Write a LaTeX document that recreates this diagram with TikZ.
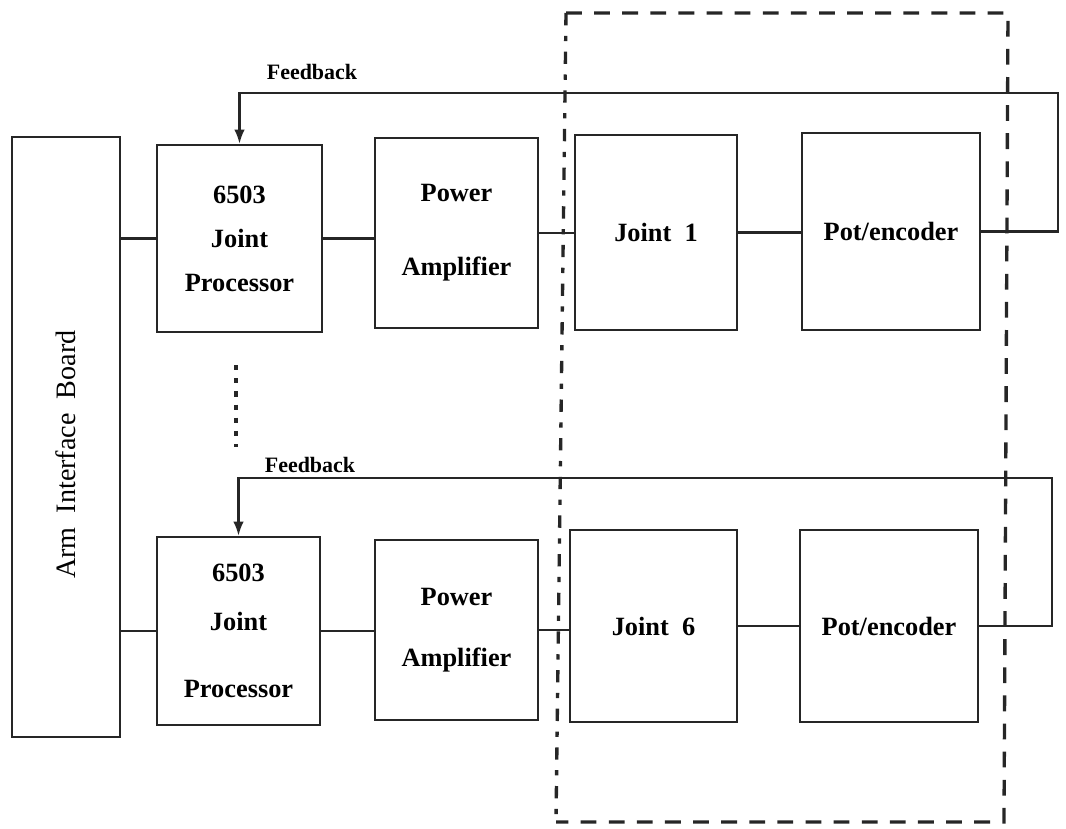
\documentclass[tikz,border=0pt]{standalone}
\usepackage{fontspec}
\setmainfont{Liberation Serif}
\usepackage{tikz}
\usetikzlibrary{positioning, calc, arrows.meta}

\begin{document}
\begin{tikzpicture}[x=0.02cm, y=-0.02cm,
				BlockNode/.style={rectangle, draw=black!85, line width=1.5pt, align=center, inner sep=0pt, font=\fontsize{15}{18}\selectfont\bfseries},
				LinkLine/.style={line width=1.2pt, draw=black!85},
				FrameLine/.style={line width=1.9pt, draw=black!85, dash pattern=on 9pt off 7pt},
				TagText/.style={font=\fontsize{12.5}{15}\selectfont\bfseries}]

			\useasboundingbox (0,0) rectangle (1066,829);

			% Nodes
			\node[BlockNode, minimum width=2.16cm, minimum height=12cm] (Board) at (66,437) {};
			\node[rotate=90, font=\fontsize{16}{19}\selectfont] (BoardText) at ([yshift=-10pt]Board.center) {Arm\ \ Interface\ \ Board};

			\node[BlockNode, minimum width=3.3cm, minimum height=3.74cm] (Proc1) at (239.5,238.5) {6503\\[7pt] Joint\\[7pt] Processor};
			\node[BlockNode, minimum width=3.26cm, minimum height=3.8cm] (Amp1) at (456.5,233) {Power\\[24pt] Amplifier};
			\node[BlockNode, minimum width=3.24cm, minimum height=3.9cm] (Joint1) at (656,232.5) {Joint\ \ 1};
			\node[BlockNode, minimum width=3.56cm, minimum height=3.94cm] (Pot1) at (891,231.5) {Pot/encoder};

			\node[BlockNode, minimum width=3.26cm, minimum height=3.76cm] (Proc6) at (238.5,631) {6503\\[10pt] Joint\\[20pt] Processor};
			\node[BlockNode, minimum width=3.26cm, minimum height=3.6cm] (Amp6) at (456.5,630) {Power\\[17pt] Amplifier};
			\node[BlockNode, minimum width=3.34cm, minimum height=3.84cm] (Joint6) at (653.5,626) {Joint\ \ 6};
			\node[BlockNode, minimum width=3.56cm, minimum height=3.84cm] (Pot6) at (889,626) {Pot/encoder};

			\node[TagText] (Fb1) at (312,72) {Feedback};
			\node[TagText] (Fb6) at (310,465) {Feedback};

			\coordinate (Ret1) at (1058,93);
			\coordinate (Ret6) at (1052,478);
			\coordinate (DotTop) at (236,365);
			\coordinate (DotBot) at (236,447);

			% Lines
			\draw[LinkLine] (Board.east |- Proc1.west) -- (Proc1.west);
			\draw[LinkLine] (Proc1.east) -- (Proc1.east -| Amp1.west);
			\draw[LinkLine] (Amp1.east) -- (Amp1.east -| Joint1.west);
			\draw[LinkLine] (Joint1.east) -- (Joint1.east -| Pot1.west);

			\draw[LinkLine] (Board.east |- Proc6.west) -- (Proc6.west);
			\draw[LinkLine] (Proc6.east) -- (Proc6.east -| Amp6.west);
			\draw[LinkLine] (Amp6.east) -- (Amp6.east -| Joint6.west);
			\draw[LinkLine] (Joint6.east) -- (Joint6.east -| Pot6.west);

			\draw[LinkLine, -{Latex[length=8pt, width=6pt]}] (Pot1.east) -| (Ret1) -| (Proc1.north);
			\draw[LinkLine, -{Latex[length=8pt, width=6pt]}] (Pot6.east) -| (Ret6) -| (Proc6.north);

			\draw[line width=2.4pt, black!85, dash pattern=on 3pt off 4.5pt] (DotTop) -- (DotBot);

			% dashed frame round the arm
			\draw[FrameLine] (566,13) -- (1008,13) -- (1004,822) -- (556,822);
			\draw[FrameLine, dash pattern=on 7pt off 6pt on 3pt off 6pt] (566,13) -- (556,822);
		\end{tikzpicture}
\end{document}
